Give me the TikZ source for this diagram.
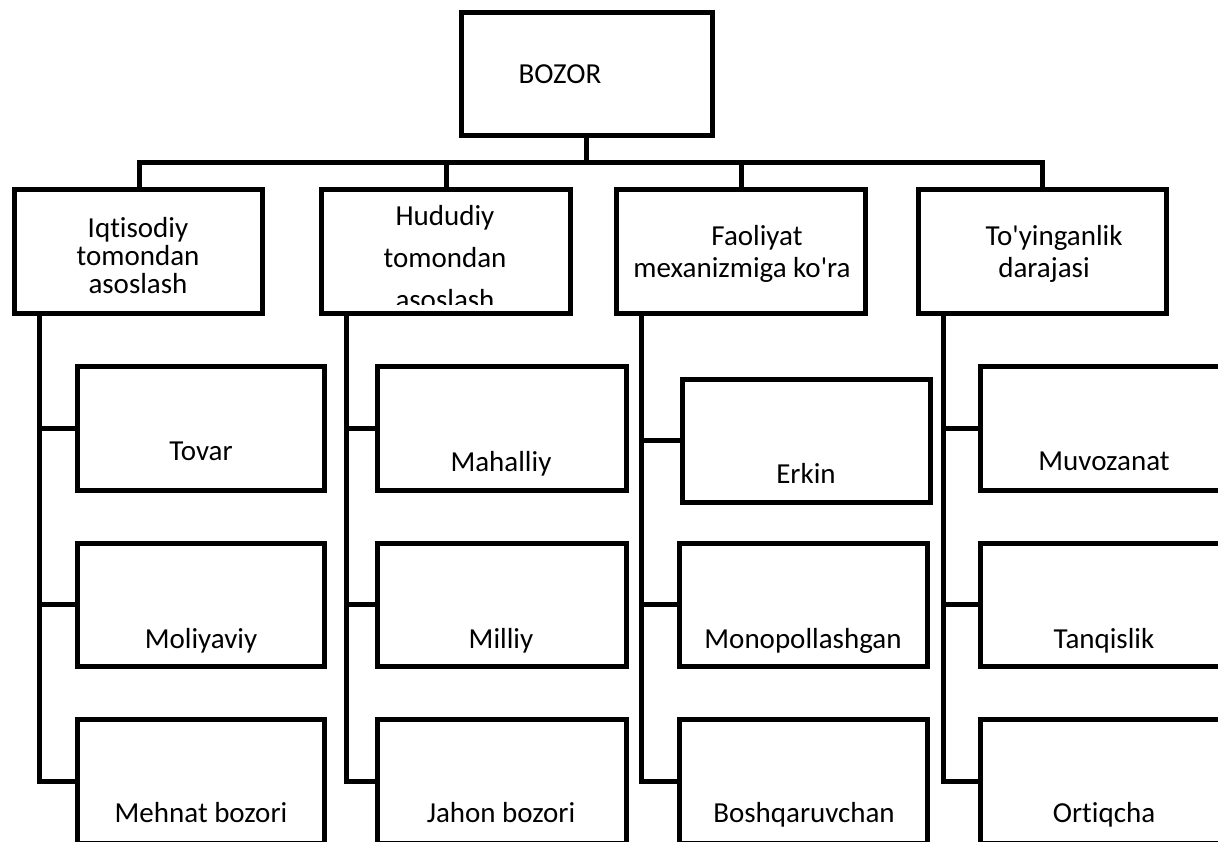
\documentclass[tikz,border=0pt]{standalone}
\usepackage{fontspec}
\setmainfont{Carlito}[Ligatures={TeXOff,CommonOff}]
\usetikzlibrary{fit}
\begin{document}
\begin{tikzpicture}[x=1pt,y=-1pt,
  box/.style={draw, line width=5pt, inner sep=0pt, outer sep=0pt, line join=miter},
  txt/.style={font=\fontsize{29}{35}\selectfont, inner sep=0pt, anchor=base},
  conn/.style={line width=5pt, line join=miter}]
\path[use as bounding box, clip] (0,0) rectangle (1218,841);
\fill[white] (0,0) rectangle (1218,841);
% root
\node[box, fit={(461,12) (712,135)}] (root) {};
\node[txt] (tRoot) at (560,83) {BOZOR};
% categories
\node[box, fit={(14,189) (262,313)}] (c1) {};
\node[box, fit={(321,189) (570,313)}] (c2) {};
\node[box, fit={(616,189) (865,313)}] (c3) {};
\node[box, fit={(918,189) (1166,313)}] (c4) {};
\node[txt] (t1a) at (138,237) {Iqtisodiy};
\node[txt] (t1b) at (138,265) {tomondan};
\node[txt] (t1c) at (138,293) {asoslash};
\node[txt] (t2a) at (445,225) {Hududiy};
\node[txt] (t2b) at (445,267) {tomondan};
\begin{scope}
\clip (321,189) rectangle (570,304);
\node[txt] (t2c) at (445,309) {asoslash};
\end{scope}
\node[txt] (t3a) at (757,245) {Faoliyat};
\node[txt] (t3b) at (742,277) {mexanizmiga ko'ra};
\node[txt] (t4a) at (1054,245) {To'yinganlik};
\node[txt] (t4b) at (1044,277) {darajasi};
% children column 1
\node[box, fit={(77,366) (324,490)}] (k11) {};
\node[box, fit={(77,543) (324,666)}] (k12) {};
\node[box, fit={(77,719) (324,843)}] (k13) {};
\node[txt] (s11) at (201,460) {Tovar};
\node[txt] (s12) at (201,648) {Moliyaviy};
\node[txt] (s13) at (201,822) {Mehnat bozori};
% column 2
\node[box, fit={(377,366) (626,490)}] (k21) {};
\node[box, fit={(377,543) (626,666)}] (k22) {};
\node[box, fit={(377,719) (626,843)}] (k23) {};
\node[txt] (s21) at (501,471) {Mahalliy};
\node[txt] (s22) at (501,648) {Milliy};
\node[txt] (s23) at (501,822) {Jahon bozori};
% column 3
\node[box, fit={(682,379) (930,502)}] (k31) {};
\node[box, fit={(679,543) (927,666)}] (k32) {};
\node[box, fit={(679,719) (927,843)}] (k33) {};
\node[txt] (s31) at (806,483) {Erkin};
\node[txt] (s32) at (803,648) {Monopollashgan};
\node[txt] (s33) at (804,822) {Boshqaruvchan};
% column 4
\node[box, fit={(980,366) (1228,490)}] (k41) {};
\node[box, fit={(980,543) (1228,666)}] (k42) {};
\node[box, fit={(980,719) (1228,843)}] (k43) {};
\node[txt] (s41) at (1104,470) {Muvozanat};
\node[txt] (s42) at (1104,648) {Tanqislik};
\node[txt] (s43) at (1104,822) {Ortiqcha};
% bus
\coordinate (bus) at (586,162);
\coordinate (d1) at (139,189);
\coordinate (d2) at (446,189);
\coordinate (d3) at (741,189);
\coordinate (d4) at (1042,189);
\draw[conn] (root.south -| bus) -- (bus);
\draw[conn] (d1) |- (bus) -| (d4);
\draw[conn] (d2) -- (d2 |- bus);
\draw[conn] (d3) -- (d3 |- bus);
% column lines
\coordinate (v1) at (39,313);
\coordinate (v2) at (346,313);
\coordinate (v3) at (641,313);
\coordinate (v4) at (943,313);
\draw[conn] (v1) |- (k13.west);
\draw[conn] (k11.west) -- (k11.west -| v1);
\draw[conn] (k12.west) -- (k12.west -| v1);
\draw[conn] (v2) |- (k23.west);
\draw[conn] (k21.west) -- (k21.west -| v2);
\draw[conn] (k22.west) -- (k22.west -| v2);
\draw[conn] (v3) |- (k33.west);
\draw[conn] (k31.west) -- (k31.west -| v3);
\draw[conn] (k32.west) -- (k32.west -| v3);
\draw[conn] (v4) |- (k43.west);
\draw[conn] (k41.west) -- (k41.west -| v4);
\draw[conn] (k42.west) -- (k42.west -| v4);
\end{tikzpicture}
\end{document}
